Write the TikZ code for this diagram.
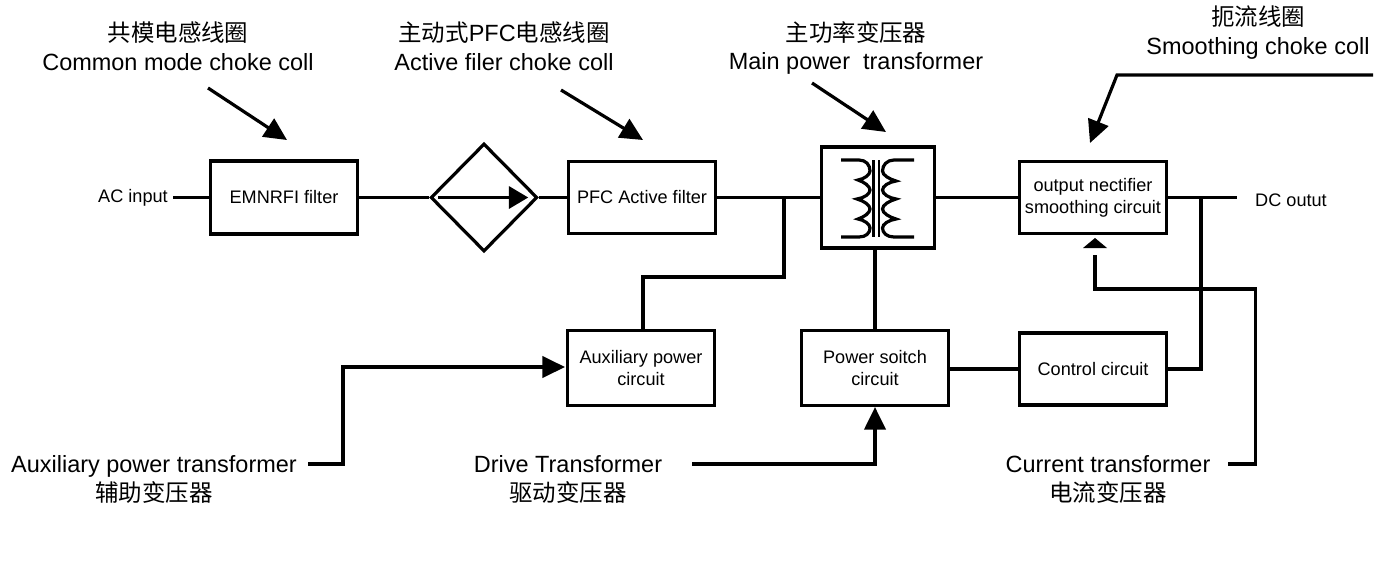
\documentclass[tikz,border=0pt]{standalone}
\usepackage{fontspec}
\setmainfont{Liberation Sans}
\newfontfamily\cjk{Noto Sans CJK SC}
\usetikzlibrary{shapes.geometric,arrows.meta}
\tikzset{
  blockbox/.style={draw,line width=2.6pt,minimum width=110pt,align=center,inner sep=0pt,font=\fontsize{13.6}{16.5}\selectfont},
  plainlabel/.style={inner sep=0pt,font=\fontsize{13.6}{16.5}\selectfont},
  wire/.style={line width=2.4pt},
  callout/.style={wire,-{Triangle[length=17pt,width=16pt]}},
  caption/.style={align=center,inner sep=0pt,font=\fontsize{17.6}{21.7}\selectfont}
}
\begin{document}
\begin{tikzpicture}[x=0.75pt,y=-0.75pt]
  \useasboundingbox (0,0) rectangle (1400,572);
  % blocks
  \node[blockbox,minimum height=55pt] (emi) at (284,197.5) {EMNRFI filter};
  \node[draw,diamond,line width=2.4pt,minimum width=80pt,minimum height=81pt,inner sep=0pt] (bridge) at (484,197.5) {};
  \node[blockbox,minimum height=54pt] (pfc) at (642,197.5) {PFC Active filter};
  \node[blockbox,minimum width=85pt,minimum height=76pt] (xfmr) at (878,197.5) {};
  \node[blockbox,minimum height=54pt] (rect) at (1093,197.5) {output nectifier\\smoothing circuit};
  \node[blockbox,minimum height=56pt] (aux) at (641,368) {Auxiliary power\\circuit};
  \node[blockbox,minimum height=56pt] (switch) at (875,368) {Power soitch\\circuit};
  \node[blockbox,minimum height=54pt] (ctrl) at (1093,369) {Control circuit};
  % plain labels
  \node[plainlabel] (acin) at (133,198) {AC input};
  \node[plainlabel] (dcout) at (1291,200) {DC outut};
  \node[caption] (capcm) at (178,46) {{\cjk 共模电感线圈}\\Common mode choke coll};
  \node[caption] (cappfc) at (504,46) {{\cjk 主动式}PFC{\cjk 电感线圈}\\Active filer choke coll};
  \node[caption] (capmain) at (856,48) {{\cjk 主功率变压器}\\Main power\ \ transformer};
  \node[caption] (capchoke) at (1258,33) {{\cjk 扼流线圈}\\Smoothing choke coll};
  \node[caption] (capaux) at (154,479) {Auxiliary power transformer\\{\cjk 辅助变压器}};
  \node[caption] (capdrive) at (568,479) {Drive Transformer\\{\cjk 驱动变压器}};
  \node[caption] (capcur) at (1108,479) {Current transformer\\{\cjk 电流变压器}};
  % free ends and junctions
  \coordinate (acend) at (173,197.5);
  \coordinate (dcend) at (1237,197.5);
  \coordinate (tapa) at (784,197.5);
  \coordinate (tapb) at (1201,197.5);
  % main line
  \draw[wire] (acend) -- (emi.west);
  \draw[wire] (emi.east) -- (bridge.west);
  \draw[wire] (bridge.east) -- (pfc.west);
  \draw[wire] (pfc.east) -- (xfmr.west);
  \draw[wire] (xfmr.east) -- (rect.west);
  \draw[wire] (rect.east) -- (dcend);
  \draw[wire] (tapa) |- (643,277) -- (643,331);
  \draw[wire] (tapb) |- (ctrl.east);
  \draw[wire] (switch.north) -- (switch.north |- xfmr.south);
  \draw[wire] (switch.east |- ctrl.east) -- (ctrl.west);
  % arrow inside the bridge
  \draw[wire,-{Triangle[length=14.5pt,width=16.5pt]}] ([xshift=7pt]bridge.west) -- ([xshift=-8pt]bridge.east);
  % transformer
  \draw[line width=1.8pt] (873.5,160) -- (873.5,237) (879,160) -- (879,237);
  \draw[wire] (841,160) -- (859,160) .. controls (866,160) and (870,165) .. (870,171) .. controls (870,175) and (864,179) .. (858,180)
    .. controls (864,182) and (870,186) .. (870,190) .. controls (870,194) and (864,198) .. (857,199)
    .. controls (864,201) and (870,205) .. (870,209) .. controls (870,213) and (864,217) .. (858,219)
    .. controls (864,220) and (870,224) .. (870,228) .. controls (870,233) and (866,237) .. (859,237) -- (841,237);
  \draw[wire] (914,160) -- (894,160) .. controls (887,160) and (882.5,165) .. (882.5,171) .. controls (882.5,175) and (889,179) .. (896,181)
    .. controls (889,182) and (882.5,186) .. (882.5,190) .. controls (882.5,194) and (889,198) .. (896,199)
    .. controls (889,201) and (882.5,205) .. (882.5,209) .. controls (882.5,213) and (889,217) .. (896,219)
    .. controls (889,220) and (882.5,224) .. (882.5,228) .. controls (882.5,233) and (887,237) .. (894,237) -- (914,237);
  % callouts
  \draw[callout] (208,88) -- (287,140);
  \draw[callout] (561,90) -- (643,140);
  \draw[callout] (812,83) -- (886,132);
  \draw[callout] (1373,75) -- (1117,75) -- (1090,143);
  \draw[callout] (308,464) -- (343,464) |- (565,367);
  \draw[callout] (692,464) -| (switch.south);
  \draw[wire] (1228,464) -- (1255.5,464) |- (1095,289) -- (1095,255);
  \fill (1083,248) -- (1095,238) -- (1107,248) -- cycle;
\end{tikzpicture}
\end{document}
